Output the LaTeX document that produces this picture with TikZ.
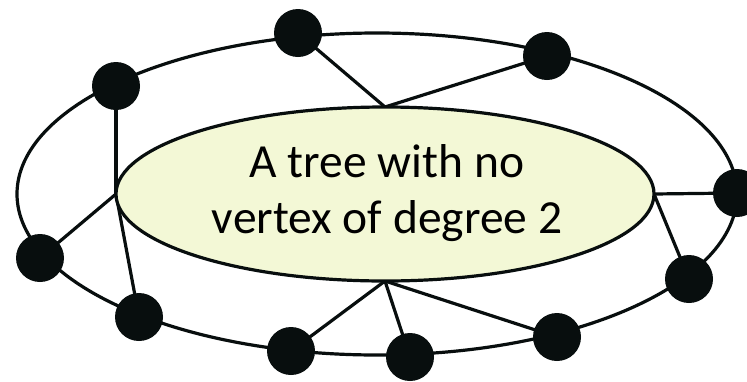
\documentclass[tikz,border=0pt]{standalone}
\usepackage{fontspec}
\setmainfont{Carlito}
\usetikzlibrary{shapes.geometric}
\definecolor{treefill}{RGB}{243,248,214}
\definecolor{dotcol}{RGB}{8,14,14}
\tikzset{
  vtx/.style={circle,fill=dotcol,draw=none,minimum size=48pt,inner sep=0pt},
  edge/.style={line width=3.2pt,draw=dotcol},
  treeshape/.style={ellipse,draw=dotcol,line width=3.2pt,fill=treefill,minimum width=538pt,minimum height=174pt,inner sep=0pt}
}
\begin{document}
\begin{tikzpicture}[x=1pt,y=-1pt]
\useasboundingbox (0,0) rectangle (747,381);
% outer cycle
\draw[edge] (377,194) ellipse [x radius=360pt, y radius=161pt];
\coordinate (tc) at (385,194);
\coordinate (ttop) at (385,107);
\coordinate (tleft) at (116,194);
\coordinate (tright) at (654,194);
\coordinate (tbot) at (385,281);
% vertex positions
\coordinate (p1) at (298,33);
\coordinate (p2) at (547,56);
\coordinate (p3) at (116,86);
\coordinate (p4) at (40,258);
\coordinate (p5) at (139,317);
\coordinate (p6) at (291,351);
\coordinate (p7) at (410,357);
\coordinate (p8) at (557,337);
\coordinate (p9) at (689,279);
\coordinate (p10) at (737,193);
% edges
\draw[edge] (p1) -- (ttop) -- (p2);
\draw[edge] (p3) -- (tleft);
\draw[edge] (p4) -- (tleft);
\draw[edge] (p5) -- (tleft);
\draw[edge] (p6) -- (tbot);
\draw[edge] (p7) -- (tbot);
\draw[edge] (p8) -- (tbot);
\draw[edge] (p9) -- (tright);
\draw[edge] (p10) -- (tright);
% tree ellipse
\node[treeshape] (tree) at (tc) {};
% vertices
\foreach \i in {1,...,10} { \node[vtx] (v\i) at (p\i) {}; }
% label
\node[align=center,inner sep=0pt,font=\fontsize{47.5}{56}\selectfont] (lbl) at (387,193) {A tree with no\\vertex of degree 2};
\end{tikzpicture}
\end{document}
